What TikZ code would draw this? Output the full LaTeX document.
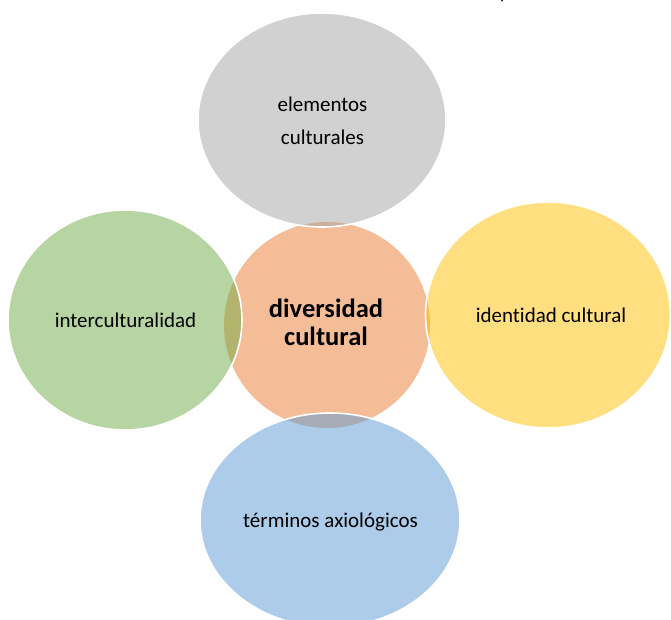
\documentclass[tikz,border=0pt]{standalone}
\usepackage{fontspec}
\setmainfont{Carlito}[Ligatures={NoCommon}]
\usetikzlibrary{shapes.geometric}
\definecolor{cgray}{HTML}{A5A5A5}
\definecolor{corange}{HTML}{ED7D31}
\definecolor{cgreen}{HTML}{70AD47}
\definecolor{cyellow}{HTML}{FFC000}
\definecolor{cblue}{HTML}{5B9BD5}
\begin{document}
\begin{tikzpicture}[x=1pt,y=-1pt,
  blob/.style={ellipse, inner sep=0pt, outer sep=0pt, fill opacity=0.5, draw=white, line width=1.6pt},
  lbl/.style={anchor=base, inner sep=0pt, text=black, font=\fontsize{21}{25}\selectfont},
  boldlbl/.style={anchor=base, inner sep=0pt, text=black, font=\fontsize{26.5}{30}\selectfont\bfseries}]
\useasboundingbox[fill=white] (0,0) rectangle (671,619);
% fragment of the caption above, cut by the page edge
\node[anchor=base, inner sep=0pt, font=\fontsize{20}{24}\selectfont\itshape] (capfrag) at (506,-1.5) {p};
% central circle
\node[blob, fill=corange, draw=none, minimum width=206pt, minimum height=206pt] (core) at (327,325) {};
% surrounding ellipses
\node[blob, fill=cgray, minimum width=248pt, minimum height=214pt] (top) at (322,120) {};
\node[blob, fill=cgreen, minimum width=234pt, minimum height=220pt] (left) at (125,320) {};
\node[blob, fill=cyellow, minimum width=245pt, minimum height=226pt] (right) at (548,315) {};
\node[blob, fill=cblue, minimum width=260pt, minimum height=214pt] (bottom) at (330,520) {};
% labels
\node[lbl] (t1) at (322.5,111) {elementos};
\node[lbl] (t2) at (322.5,144) {culturales};
\node[lbl] (l1) at (125.5,327) {interculturalidad};
\node[lbl] (r1) at (551,322) {identidad cultural};
\node[lbl] (b1) at (330.5,527) {términos axiológicos};
\node[boldlbl] (c1) at (326,317) {diversidad};
\node[boldlbl] (c2) at (326,345) {cultural};
\end{tikzpicture}
\end{document}
